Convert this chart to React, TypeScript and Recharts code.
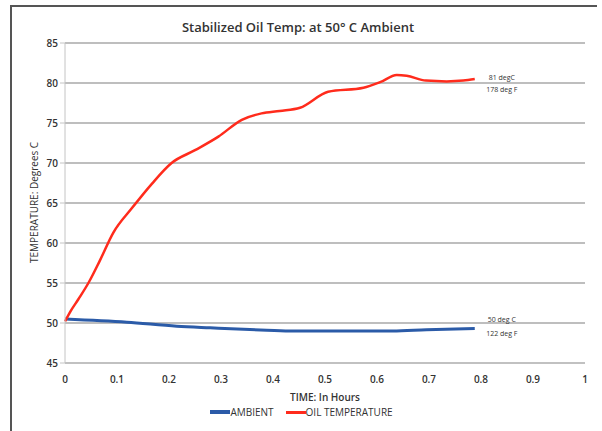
import React from 'react';
import { CartesianGrid, Legend, Line, LineChart, ReferenceDot, XAxis, YAxis } from 'recharts';

// values
const oilTime = [0, 0.01, 0.026, 0.045, 0.067, 0.093, 0.128, 0.167, 0.205, 0.25, 0.295, 0.34, 0.378, 0.413, 0.452, 0.506, 0.574, 0.606, 0.638, 0.657, 0.694, 0.734, 0.766, 0.788];
const oilTemp = [50.2, 51.4, 53.0, 55.0, 57.8, 61.3, 64.3, 67.4, 70.0, 71.6, 73.3, 75.4, 76.2, 76.5, 76.9, 78.9, 79.4, 80.1, 81.0, 80.9, 80.3, 80.2, 80.3, 80.5];

const ambientTime = [0, 0.119, 0.215, 0.279, 0.388, 0.44, 0.63, 0.695, 0.788];
const ambientTemp = [50.5, 50.1, 49.6, 49.4, 49.1, 49.0, 49.0, 49.15, 49.3];

const xTicks = [0, 0.1, 0.2, 0.3, 0.4, 0.5, 0.6, 0.7, 0.8, 0.9, 1];
const yTicks = [45, 50, 55, 60, 65, 70, 75, 80, 85];

const oilData = oilTime.map((t, i) => ({ time: t, temp: oilTemp[i] }));
const ambientData = ambientTime.map((t, i) => ({ time: t, temp: ambientTemp[i] }));

const notes = [
  { x: 0.84, y: 80.8, text: '81 degC' },
  { x: 0.84, y: 79.3, text: '178 deg F' },
  { x: 0.84, y: 50.5, text: '50 deg C' },
  { x: 0.84, y: 48.8, text: '122 deg F' },
];

const FONT = '"Open Sans", "Liberation Sans", sans-serif';
const RED = '#ff2b1c';
const BLUE = '#2b5ba8';

const LegendBox = () => (
  <div style={{ display: 'flex', justifyContent: 'center', alignItems: 'center', fontFamily: FONT, fontSize: 10, color: '#333', marginLeft: -12 }}>
    <span style={{ display: 'inline-block', width: 20, height: 4, background: BLUE }} />
    <span style={{ marginRight: 12 }}>AMBIENT</span>
    <span style={{ display: 'inline-block', width: 20, height: 3, background: RED }} />
    <span>OIL TEMPERATURE</span>
  </div>
);

const NoteLabel = ({ viewBox, value }: any) => (
  <text x={viewBox.cx ?? viewBox.x} y={(viewBox.cy ?? viewBox.y) + 3} textAnchor="middle" fontFamily={FONT} fontSize={7} fill="#333">
    {value}
  </text>
);

export default function App() {
  return (
    <div style={{ position: 'absolute', left: 0, top: 0, width: 602, height: 431, background: '#fff', overflow: 'hidden' }}>
      <div style={{ position: 'absolute', left: 10, top: 5, width: 585, height: 440, borderTop: '2px solid #555', borderLeft: '2px solid #555' }} />
      <div style={{ position: 'absolute', left: 0, top: 18, width: 596, textAlign: 'center', fontFamily: FONT, fontSize: 13, fontWeight: 600, color: '#333' }}>
        Stabilized Oil Temp: at 50° C Ambient
      </div>
      <div style={{ position: 'absolute', left: 0, top: 0 }}>
        <LineChart width={602} height={431} margin={{ top: 43, right: 17, left: 30, bottom: 4 }}>
          <CartesianGrid vertical={false} stroke="#a8a8a8" strokeWidth={1.3} />
          <XAxis
            type="number"
            dataKey="time"
            domain={[0, 1]}
            ticks={xTicks}
            allowDuplicatedCategory={false}
            stroke="#c4c4c4"
            tickLine={false}
            tick={{ fill: '#333', fontSize: 10, fontFamily: FONT, fontWeight: 600, dy: 5 }}
            height={42}
            label={{ value: 'TIME: In Hours', position: 'insideBottom', offset: 4, fill: '#333', fontSize: 10, fontFamily: FONT, fontWeight: 600 }}
          />
          <YAxis
            type="number"
            domain={[45, 85]}
            ticks={yTicks}
            stroke="#c4c4c4"
            tickLine={{ stroke: '#c4c4c4' }}
            tickSize={5}
            tick={{ fill: '#333', fontSize: 10, fontFamily: FONT, fontWeight: 600 }}
            width={35}
            label={{ value: 'TEMPERATURE: Degrees C', angle: -90, position: 'insideLeft', offset: 4, dy: 60, fill: '#333', fontSize: 10, fontFamily: FONT }}
          />
          <Legend verticalAlign="bottom" height={22} content={() => <LegendBox />} />
          <Line data={ambientData} dataKey="temp" name="AMBIENT" type="monotone" stroke={BLUE} strokeWidth={3} dot={false} isAnimationActive={false} />
          <Line data={oilData} dataKey="temp" name="OIL TEMPERATURE" type="monotone" stroke={RED} strokeWidth={2.5} dot={false} isAnimationActive={false} />
          {notes.map((n) => (
            <ReferenceDot key={n.text} x={n.x} y={n.y} r={0} stroke="none" label={<NoteLabel value={n.text} />} />
          ))}
        </LineChart>
      </div>
    </div>
  );
}
